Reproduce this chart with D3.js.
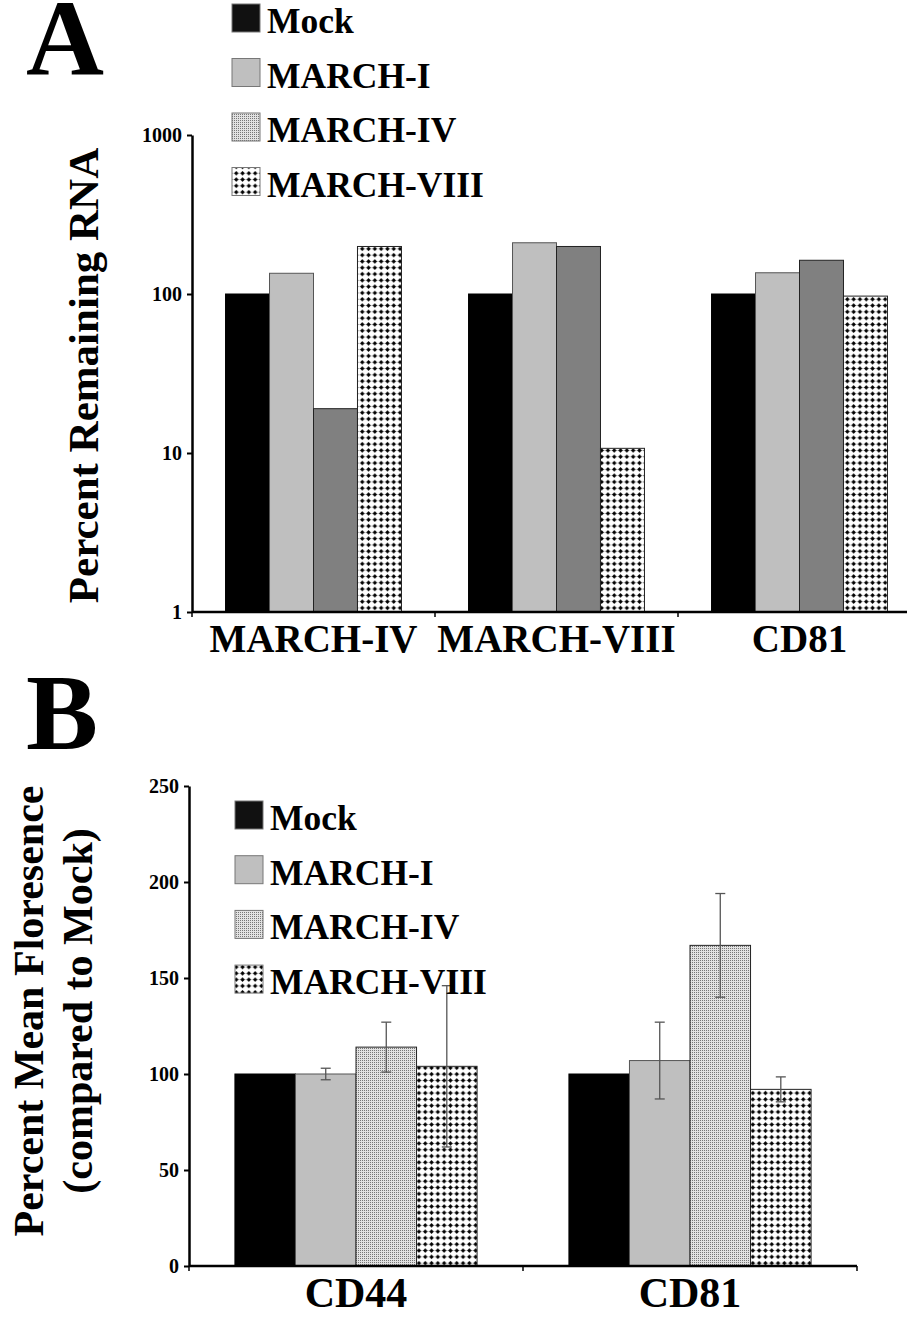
<!DOCTYPE html>
<html>
<head>
<meta charset="utf-8">
<script src="https://cdn.jsdelivr.net/npm/d3@7"></script>
<style>
  html, body { margin: 0; padding: 0; background: #fff; }
  svg { display: block; font-family: "Liberation Serif", "Times New Roman", serif; font-weight: bold; }
</style>
</head>
<body>
<svg id="chart" width="907" height="1317"></svg>
<script>
// series names (legend order)
const seriesNames = ['Mock', 'MARCH-I', 'MARCH-IV', 'MARCH-VIII'];

// panel A: percent remaining RNA (log scale)
const rnaGroups = ['MARCH-IV', 'MARCH-VIII', 'CD81'];
const rnaMock = [100, 100, 100];
const rnaMarch1 = [135, 210, 136];
const rnaMarch4 = [19, 199, 163];
const rnaMarch8 = [199, 10.7, 97];
const rnaTicks = [1, 10, 100, 1000];

// panel B: percent mean fluorescence (compared to mock)
const mfiGroups = ['CD44', 'CD81'];
const mfiMock = [100, 100];
const mfiMarch1 = [100, 107];
const mfiMarch4 = [114, 167];
const mfiMarch8 = [104, 92];
const errMarch1 = [3, 20];
const errMarch4 = [13, 27];
const errMarch8 = [42, 6.5];
const mfiTicks = [0, 50, 100, 150, 200, 250];

const svg = d3.select('#chart');

// fill patterns
const defs = svg.append('defs');
const fine = defs.append('pattern').attr('id', 'pat-fine')
  .attr('patternUnits', 'userSpaceOnUse').attr('width', 2).attr('height', 2);
fine.append('rect').attr('width', 2).attr('height', 2).attr('fill', '#e2e2e2');
fine.append('rect').attr('width', 1).attr('height', 1).attr('fill', '#777');

const dots = defs.append('pattern').attr('id', 'pat-dots')
  .attr('patternUnits', 'userSpaceOnUse').attr('width', 6.3).attr('height', 6.3);
dots.append('rect').attr('width', 6.3).attr('height', 6.3).attr('fill', '#fff');
dots.append('line').attr('x1', 0).attr('x2', 6.3).attr('y1', 3.15).attr('y2', 3.15)
  .attr('stroke', '#aaa').attr('stroke-width', 0.6);
dots.append('path').attr('d', 'M3.15,0.9L5.4,3.15L3.15,5.4L0.9,3.15Z').attr('fill', '#000');

// panel A uses a solid grey for MARCH-IV bars, panel B the fine dot pattern
const fillA = ['#000', '#bfbfbf', '#808080', 'url(#pat-dots)'];
const fillB = ['#000', '#bfbfbf', 'url(#pat-fine)', 'url(#pat-dots)'];
const strokeBar = ['#000', '#555', '#222', '#222'];

function legend(x, y0, step) {
  const g = svg.append('g');
  const fillLeg = ['#111', '#bfbfbf', 'url(#pat-fine)', 'url(#pat-dots)'];
  seriesNames.forEach((s, i) => {
    g.append('rect').attr('x', x).attr('y', y0 + i * step - 28)
      .attr('width', 28).attr('height', 28)
      .attr('fill', fillLeg[i]).attr('stroke', '#777').attr('stroke-width', 1);
    g.append('text').attr('x', x + 35).attr('y', y0 + i * step + 1)
      .attr('font-size', 35.5).text(s);
  });
}

function styleAxis(g) {
  g.select('.domain').attr('stroke', '#000').attr('stroke-width', 2.5);
  g.selectAll('.tick line').attr('stroke', '#000').attr('stroke-width', 2);
  g.selectAll('.tick text').attr('font-size', 20).attr('font-family', '"Liberation Serif", serif')
    .attr('font-weight', 'bold').attr('fill', '#000');
}

// boundaries between groups of a band scale (incl. both ends)
function groupBounds(x0, groups, left, right) {
  const half = (x0.step() - x0.bandwidth()) / 2;
  return [left].concat(groups.slice(1).map(d => x0(d) - half), [right]);
}

// ---------- panel A ----------
{
  const left = 192, right = 921, top = 135, bottom = 612;
  const x0 = d3.scaleBand().domain(rnaGroups).range([left, right])
    .paddingInner(0.276).paddingOuter(0.138);
  const x1 = d3.scaleBand().domain(seriesNames).range([0, x0.bandwidth()]);
  const y = d3.scaleLog().domain([1, 1000]).range([bottom, top]);
  const vals = [rnaMock, rnaMarch1, rnaMarch4, rnaMarch8];

  const rows = [];
  rnaGroups.forEach((g, gi) => seriesNames.forEach((s, si) =>
    rows.push({ g, s, si, v: vals[si][gi] })));

  svg.append('g').selectAll('rect').data(rows).join('rect')
    .attr('x', d => x0(d.g) + x1(d.s))
    .attr('y', d => y(d.v))
    .attr('width', x1.bandwidth())
    .attr('height', d => bottom - y(d.v))
    .attr('fill', d => fillA[d.si])
    .attr('stroke', d => strokeBar[d.si]).attr('stroke-width', 1);

  const ay = svg.append('g').attr('transform', `translate(${left},0)`)
    .call(d3.axisLeft(y).tickValues(rnaTicks).tickFormat(d3.format('d'))
      .tickSize(5).tickSizeOuter(0).tickPadding(5));
  styleAxis(ay);

  // x axis line with ticks between groups
  svg.append('line').attr('x1', left).attr('x2', 907).attr('y1', bottom).attr('y2', bottom)
    .attr('stroke', '#000').attr('stroke-width', 2.5);
  svg.append('g').selectAll('line').data(groupBounds(x0, rnaGroups, left, right)).join('line')
    .attr('x1', d => d).attr('x2', d => d)
    .attr('y1', bottom).attr('y2', bottom + 5)
    .attr('stroke', '#000').attr('stroke-width', 1.5);
  svg.append('g').selectAll('text').data(rnaGroups).join('text')
    .attr('x', d => x0(d) + x0.bandwidth() / 2).attr('y', 652)
    .attr('text-anchor', 'middle').attr('font-size', 39).text(d => d);

  svg.append('text').attr('transform', `translate(98,${(top + bottom) / 2 + 2}) rotate(-90)`)
    .attr('text-anchor', 'middle').attr('font-size', 43).text('Percent Remaining RNA');

  svg.append('text').attr('x', 26).attr('y', 75).attr('font-size', 108).text('A');
  legend(232, 32, 54.5);
}

// ---------- panel B ----------
{
  const left = 189, right = 857, top = 786, bottom = 1266;
  const x0 = d3.scaleBand().domain(mfiGroups).range([left, right])
    .paddingInner(0.275).paddingOuter(0.1375);
  const x1 = d3.scaleBand().domain(seriesNames).range([0, x0.bandwidth()]);
  const y = d3.scaleLinear().domain([0, 250]).range([bottom, top]);
  const vals = [mfiMock, mfiMarch1, mfiMarch4, mfiMarch8];
  const errs = [null, errMarch1, errMarch4, errMarch8];

  const rows = [];
  mfiGroups.forEach((g, gi) => seriesNames.forEach((s, si) =>
    rows.push({ g, s, si, v: vals[si][gi], e: errs[si] ? errs[si][gi] : null })));

  svg.append('g').selectAll('rect').data(rows).join('rect')
    .attr('x', d => x0(d.g) + x1(d.s))
    .attr('y', d => y(d.v))
    .attr('width', x1.bandwidth())
    .attr('height', d => bottom - y(d.v))
    .attr('fill', d => fillB[d.si])
    .attr('stroke', d => strokeBar[d.si]).attr('stroke-width', 1);

  // error bars
  const eb = svg.append('g').attr('stroke', '#555').attr('stroke-width', 1.3);
  rows.filter(d => d.e != null).forEach(d => {
    const cx = x0(d.g) + x1(d.s) + x1.bandwidth() / 2;
    eb.append('line').attr('x1', cx).attr('x2', cx)
      .attr('y1', y(d.v + d.e)).attr('y2', y(d.v - d.e));
    [d.v + d.e, d.v - d.e].forEach(v => eb.append('line')
      .attr('x1', cx - 5).attr('x2', cx + 5).attr('y1', y(v)).attr('y2', y(v)));
  });

  const ay = svg.append('g').attr('transform', `translate(${left},0)`)
    .call(d3.axisLeft(y).tickValues(mfiTicks).tickSize(5).tickSizeOuter(0).tickPadding(5));
  styleAxis(ay);

  svg.append('line').attr('x1', left).attr('x2', right).attr('y1', bottom).attr('y2', bottom)
    .attr('stroke', '#000').attr('stroke-width', 2.5);
  svg.append('g').selectAll('line').data(groupBounds(x0, mfiGroups, left, right)).join('line')
    .attr('x1', d => d).attr('x2', d => d)
    .attr('y1', bottom).attr('y2', bottom + 5)
    .attr('stroke', '#000').attr('stroke-width', 1.5);
  svg.append('g').selectAll('text').data(mfiGroups).join('text')
    .attr('x', d => x0(d) + x0.bandwidth() / 2).attr('y', 1307)
    .attr('text-anchor', 'middle').attr('font-size', 42).text(d => d);

  const cy = 1011;
  svg.append('text').attr('transform', `translate(43,${cy}) rotate(-90)`)
    .attr('text-anchor', 'middle').attr('font-size', 42).text('Percent Mean Floresence');
  svg.append('text').attr('transform', `translate(92,${cy}) rotate(-90)`)
    .attr('text-anchor', 'middle').attr('font-size', 42).text('(compared to Mock)');

  svg.append('text').attr('x', 26).attr('y', 749).attr('font-size', 108).text('B');
  legend(235, 829, 54.7);
}
</script>
</body>
</html>
